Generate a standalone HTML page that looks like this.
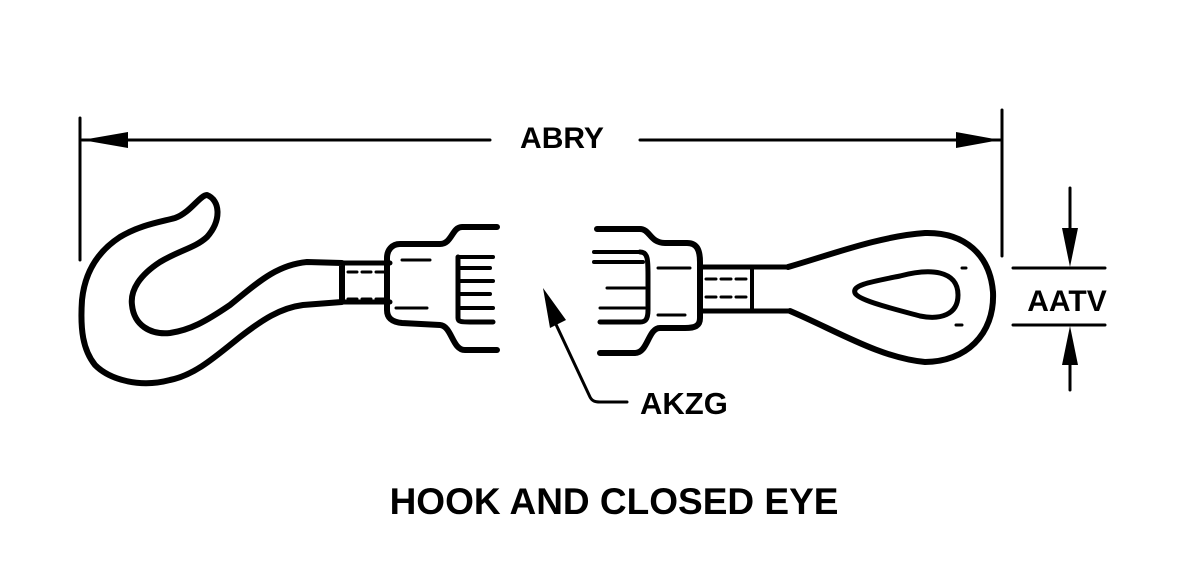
<!DOCTYPE html>
<html><head><style>
html,body{margin:0;padding:0;background:#fff;}
svg{display:block;}
text{font-family:"Liberation Sans",Arial,sans-serif;font-weight:bold;fill:#000;}
</style></head><body>
<svg width="1200" height="579" viewBox="0 0 1200 579" xmlns="http://www.w3.org/2000/svg">
<g fill="none" stroke="#000" stroke-linecap="round" stroke-linejoin="round">
<line x1="80" y1="118" x2="80" y2="260" stroke-width="3"/>
<line x1="1002" y1="110" x2="1002" y2="256" stroke-width="3"/>
<line x1="82" y1="140" x2="490" y2="140" stroke-width="3"/>
<line x1="640" y1="140" x2="1000" y2="140" stroke-width="3"/>
<line x1="1013" y1="268" x2="1105" y2="268" stroke-width="3"/>
<line x1="1013" y1="325" x2="1105" y2="325" stroke-width="3"/>
<line x1="1070" y1="188" x2="1070" y2="250" stroke-width="3"/>
<line x1="1070" y1="345" x2="1070" y2="390" stroke-width="3"/>
<path d="M207,195 C220,200 222,220 207,237 C195,248 180,250 160,262 C140,275 130,290 132,305 C134,325 150,335 170,333 C190,330 205,322 230,305 C255,285 275,265 307,262 L342,263 L342,302 L303,305 C280,308 262,320 240,337 C215,357 195,375 170,380 C140,388 110,380 95,365 C83,350 80,330 82,300 C85,270 100,250 120,237 C140,225 160,222 175,218 C190,213 200,195 207,195 Z" stroke-width="6"/>
<line x1="342" y1="263" x2="390" y2="263" stroke-width="5"/>
<line x1="342" y1="302" x2="390" y2="302" stroke-width="5"/>
<line x1="348" y1="272" x2="385" y2="272" stroke-width="3" stroke-dasharray="9,5"/>
<line x1="348" y1="299" x2="385" y2="299" stroke-width="3" stroke-dasharray="9,5"/>
<path d="M497,227 L462,227 C452,227 452,244 440,244 L400,244 C392,244 387,250 387,258 L387,310 C387,318 392,322 402,323 L440,325 C452,326 452,350 465,350 L497,350" stroke-width="6"/>
<line x1="402" y1="260" x2="430" y2="260" stroke-width="3"/>
<line x1="396" y1="308" x2="427" y2="308" stroke-width="3"/>
<path d="M458,257 L458,318 C458,322 462,322 470,322 L493,322" stroke-width="5"/>
<line x1="458" y1="257" x2="493" y2="257" stroke-width="4"/>
<line x1="458" y1="268" x2="490" y2="268" stroke-width="4"/>
<line x1="458" y1="281" x2="493" y2="281" stroke-width="4"/>
<line x1="458" y1="294" x2="490" y2="294" stroke-width="4"/>
<line x1="458" y1="308" x2="493" y2="308" stroke-width="4"/>
<path d="M597,229 L640,229 C650,229 650,243 665,243 L687,243 C697,243 700,250 700,262 L700,318 C700,326 695,328 685,328 L660,328 C648,328 648,353 635,353 L600,353" stroke-width="6"/>
<path d="M640,252 C648,252 648,260 648,275 L648,310 C648,320 645,322 640,322 L600,322" stroke-width="5"/>
<line x1="594" y1="252" x2="640" y2="252" stroke-width="4"/>
<line x1="594" y1="262" x2="643" y2="262" stroke-width="4"/>
<line x1="607" y1="288" x2="645" y2="288" stroke-width="3"/>
<line x1="600" y1="308" x2="645" y2="308" stroke-width="3"/>
<line x1="658" y1="268" x2="690" y2="268" stroke-width="3"/>
<line x1="658" y1="315" x2="685" y2="315" stroke-width="3"/>
<line x1="700" y1="267" x2="788" y2="267" stroke-width="5"/>
<line x1="700" y1="311" x2="790" y2="311" stroke-width="5"/>
<line x1="752" y1="267" x2="752" y2="311" stroke-width="4"/>
<line x1="706" y1="279" x2="748" y2="279" stroke-width="3" stroke-dasharray="10,5"/>
<line x1="706" y1="297" x2="748" y2="297" stroke-width="3" stroke-dasharray="10,5"/>
<path d="M788,267 C830,255 880,236 925,233 C965,232 990,255 993,292 C995,335 965,362 925,362 C880,358 835,330 790,311" stroke-width="6"/>
<path d="M855,293 C852,285 870,282 900,276 C930,268 958,270 958,295 C958,315 940,320 920,316 C890,308 858,300 855,293 Z" stroke-width="5"/>
<line x1="962" y1="268" x2="966" y2="268" stroke-width="3"/>
<line x1="956" y1="325" x2="962" y2="325" stroke-width="3"/>
<path d="M553,318 L590,397 C592,401 595,402 600,402 L627,402" stroke-width="3"/>
</g>
<g fill="#000">
<polygon points="82,140 128,132 128,148"/>
<polygon points="1000,140 956,132 956,148"/>
<polygon points="1070,267 1062,228 1078,228"/>
<polygon points="1070,326 1062,365 1078,365"/>
<polygon points="543,288 566,320 550,328"/>
</g>
<text x="562" y="148" font-size="30" text-anchor="middle">ABRY</text>
<text x="1067" y="311" font-size="30" text-anchor="middle">AATV</text>
<text x="640" y="414" font-size="31">AKZG</text>
<text x="614" y="514" font-size="37" text-anchor="middle">HOOK AND CLOSED EYE</text>
</svg>
</body></html>
